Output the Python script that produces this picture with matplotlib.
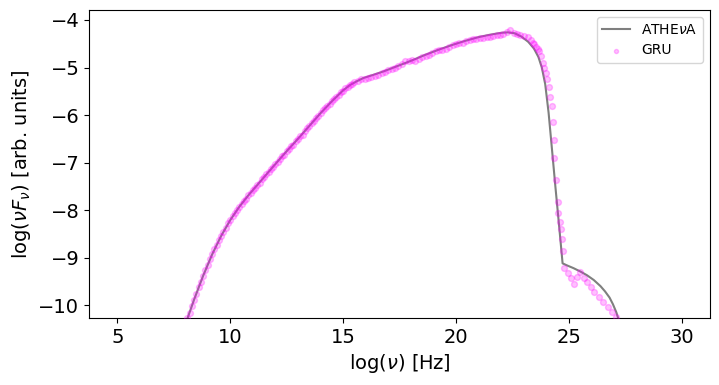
import matplotlib
matplotlib.use("Agg")
import matplotlib.pyplot as plt
import numpy as np

# ATHEvA model curve
athena_x = [7.6, 8.0, 8.4, 8.8, 9.2, 9.6, 10.0, 10.4, 10.8, 11.2, 11.6, 12.0,
            12.5, 13.0, 13.5, 14.0, 14.5, 15.0, 15.3, 15.6, 15.9, 16.3, 16.8,
            17.4, 18.0, 18.6, 19.2, 19.8, 20.4, 21.0, 21.5, 22.0, 22.3, 22.6,
            22.9, 23.2, 23.45, 23.65, 23.8, 23.95, 24.1, 24.25, 24.4, 24.55,
            24.72, 24.9, 25.2, 25.5, 25.8, 26.1, 26.4, 26.6, 26.8, 26.95,
            27.1, 27.25, 27.4]
athena_y = [-10.98, -10.42, -9.88, -9.38, -8.93, -8.54, -8.21, -7.93, -7.69,
            -7.47, -7.25, -7.03, -6.76, -6.5, -6.23, -5.96, -5.71, -5.48,
            -5.37, -5.29, -5.22, -5.16, -5.08, -4.97, -4.86, -4.74, -4.63,
            -4.53, -4.44, -4.36, -4.31, -4.27, -4.26, -4.28, -4.35, -4.46,
            -4.6, -4.78, -5.0, -5.35, -5.95, -6.72, -7.5, -8.25, -9.12, -9.16,
            -9.22, -9.29, -9.37, -9.47, -9.6, -9.71, -9.84, -9.98, -10.15,
            -10.38, -10.7]

# GRU predictions
gru_x = [8.0, 8.1, 8.2, 8.3, 8.4, 8.5, 8.6, 8.7, 8.8, 8.9,
         9.0, 9.1, 9.2, 9.3, 9.4, 9.5, 9.6, 9.7, 9.8, 9.9,
         10.0, 10.1, 10.2, 10.3, 10.4, 10.5, 10.6, 10.7, 10.8, 10.9,
         11.0, 11.1, 11.2, 11.3, 11.4, 11.5, 11.6, 11.7, 11.8, 11.9,
         12.0, 12.1, 12.2, 12.3, 12.4, 12.5, 12.6, 12.7, 12.8, 12.9,
         13.0, 13.1, 13.2, 13.3, 13.4, 13.5, 13.6, 13.7, 13.8, 13.9,
         14.0, 14.1, 14.2, 14.3, 14.4, 14.5, 14.6, 14.7, 14.8, 14.9,
         15.0, 15.1, 15.2, 15.3, 15.4, 15.5,
         15.65, 15.8, 15.95, 16.1, 16.25, 16.4, 16.55, 16.7, 16.85, 17.0,
         17.15, 17.3, 17.45, 17.6, 17.75, 17.9, 18.05, 18.2, 18.35, 18.5,
         18.65, 18.8, 18.95, 19.1, 19.25, 19.4, 19.55, 19.7, 19.85, 20.0,
         20.15, 20.3, 20.45, 20.6, 20.75, 20.9, 21.05, 21.2, 21.35, 21.5,
         21.65, 21.8, 21.95, 22.1, 22.25, 22.4, 22.55, 22.7, 22.85, 23.0,
         23.17, 23.3, 23.39, 23.47, 23.55, 23.62, 23.69, 23.76, 23.84, 23.91,
         23.98, 24.05, 24.13, 24.17, 24.23, 24.28, 24.32, 24.35, 24.42, 24.5,
         24.53, 24.6, 24.65, 24.68, 24.72, 24.78, 24.94, 25.09, 25.23, 25.38,
         25.5, 25.66, 25.8, 25.97, 26.12, 26.33, 26.49, 26.71, 26.93, 27.08,
         27.2]
gru_y = [-10.43, -10.28, -10.16, -10.01, -9.89, -9.76, -9.62, -9.51, -9.38, -9.27,
         -9.15, -9.03, -8.93, -8.82, -8.73, -8.62, -8.54, -8.45, -8.37, -8.28,
         -8.21, -8.13, -8.07, -8.0, -7.93, -7.88, -7.81, -7.76, -7.69, -7.64,
         -7.58, -7.53, -7.47, -7.42, -7.35, -7.31, -7.24, -7.2, -7.13, -7.09,
         -7.03, -6.98, -6.93, -6.87, -6.83, -6.76, -6.72, -6.66, -6.62, -6.55,
         -6.51, -6.45, -6.41, -6.34, -6.28, -6.24, -6.17, -6.13, -6.06, -6.02,
         -5.96, -5.9, -5.86, -5.8, -5.76, -5.71, -5.66, -5.61, -5.57, -5.52,
         -5.49, -5.44, -5.41, -5.36, -5.34, -5.31,
         -5.28, -5.25, -5.24, -5.22, -5.2, -5.18, -5.16, -5.12, -5.1, -5.06,
         -5.04, -5.01, -4.97, -4.93, -4.86, -4.87, -4.85, -4.86, -4.83, -4.78,
         -4.75, -4.73, -4.7, -4.66, -4.63, -4.63, -4.6, -4.56, -4.53, -4.51,
         -4.48, -4.48, -4.44, -4.43, -4.4, -4.4, -4.37, -4.38, -4.36, -4.35,
         -4.34, -4.32, -4.31, -4.29, -4.25, -4.22, -4.27, -4.3, -4.31, -4.33,
         -4.35, -4.42, -4.49, -4.5, -4.56, -4.6, -4.65, -4.75, -4.91, -5.0,
         -5.12, -5.25, -5.4, -5.61, -5.82, -6.14, -6.53, -6.91, -7.37, -7.83,
         -8.07, -8.25, -8.39, -8.6, -8.86, -9.22, -9.33, -9.43, -9.56, -9.4,
         -9.31, -9.43, -9.52, -9.61, -9.72, -9.82, -9.93, -10.04, -10.14, -10.25,
         -10.35]

fig, ax = plt.subplots(figsize=(7.19, 3.85), dpi=100)
fig.subplots_adjust(left=0.124, right=0.9875, bottom=0.174, top=0.974)

ax.plot(athena_x, athena_y, color='k', alpha=0.5, linewidth=1.5, label=r'ATHE$\nu$A')
# points drawn over the line, as in the reference
ax.scatter(gru_x, gru_y, color='magenta', alpha=0.25, s=18, zorder=3, label='GRU')

ax.set_xlim(3.75, 31.25)
ax.set_ylim(-10.27, -3.79)
ax.set_xticks([5, 10, 15, 20, 25, 30])
ax.set_yticks([-10, -9, -8, -7, -6, -5, -4])
ax.tick_params(labelsize=14)
ax.set_xlabel(r'$\log(\nu)$ [Hz]', fontsize=14)
ax.set_ylabel(r'$\log(\nu F_{\nu})$ [arb. units]', fontsize=14)
ax.legend(loc='upper right', fontsize=10, markerscale=0.7)

fig.savefig('out.png')
